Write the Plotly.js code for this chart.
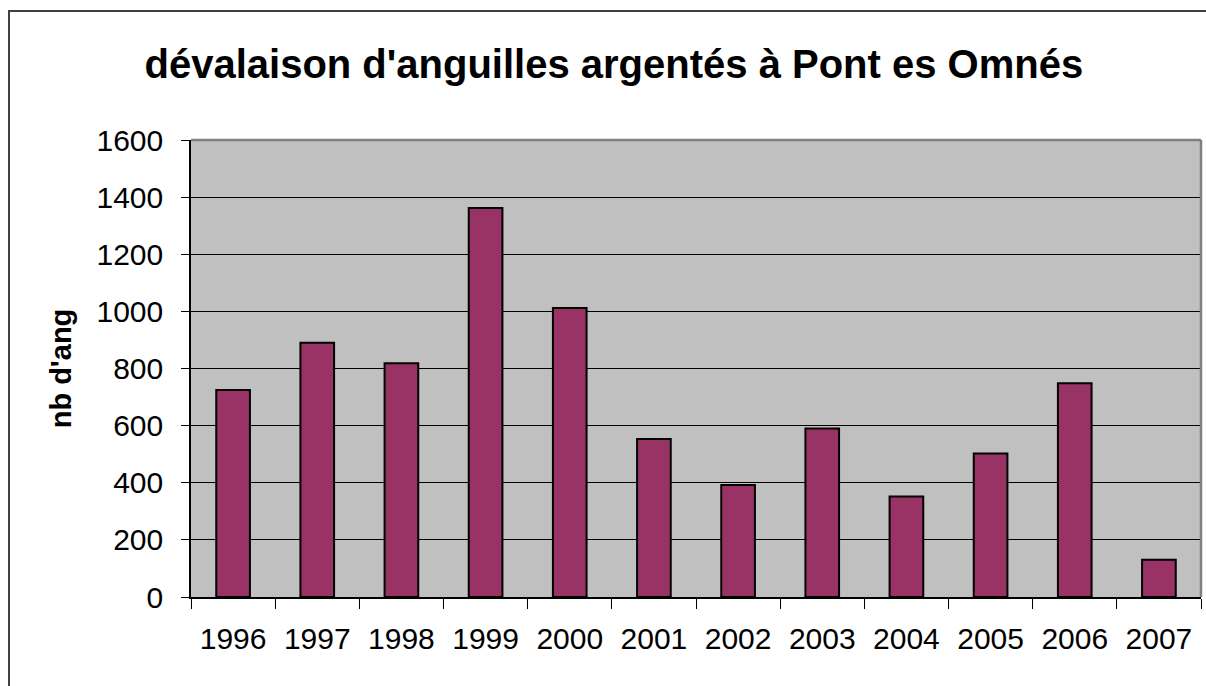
<!DOCTYPE html>
<html>
<head>
<meta charset="utf-8">
<script src="https://cdn.plot.ly/plotly-3.0.1.min.js"></script>
<style>
  html, body { margin: 0; padding: 0; background: #ffffff; }
  #wrap { position: relative; width: 1206px; height: 686px; overflow: hidden; }
  #frame { position: absolute; left: 8px; top: 10px; width: 1220px; height: 700px;
           border-left: 2px solid #404040; border-top: 2px solid #404040; pointer-events: none; }
  #chart { position: absolute; left: 0; top: 0; width: 1206px; height: 686px; }
</style>
</head>
<body>
<div id="wrap">
  <div id="chart"></div>
  <div id="frame"></div>
</div>
<script>
const years = ["1996","1997","1998","1999","2000","2001","2002","2003","2004","2005","2006","2007"];
const counts = [725, 890, 818, 1362, 1012, 553, 392, 590, 352, 502, 748, 130];
const yTicks = [0, 200, 400, 600, 800, 1000, 1200, 1400, 1600];
const chartTitle = "dévalaison d'anguilles argentés à Pont es Omnés";
const yTitle = "nb d'ang";

const font = "'Liberation Sans', Arial, sans-serif";

const trace = {
  type: "bar",
  x: years,
  y: counts,
  width: 0.4,
  marker: { color: "#993366", line: { color: "#000000", width: 2 } },
  hoverinfo: "x+y"
};

const layout = {
  width: 1206,
  height: 686,
  margin: { l: 191, r: 5, t: 140, b: 89, pad: 0 },
  paper_bgcolor: "rgba(0,0,0,0)",
  plot_bgcolor: "#C0C0C0",
  showlegend: false,
  bargap: 0.6,
  title: {
    text: "<b>" + chartTitle + "</b>",
    font: { family: font, size: 40, color: "#000000" },
    xref: "container", x: 0.509, xanchor: "center",
    yref: "container", y: 0.907, yanchor: "middle"
  },
  xaxis: {
    type: "category",
    tickson: "boundaries",
    ticks: "outside",
    ticklen: 10,
    tickwidth: 1,
    tickcolor: "#000000",
    showline: true,
    linecolor: "#000000",
    linewidth: 1.5,
    showgrid: false,
    zeroline: false,
    ticklabelstandoff: 14,
    tickfont: { family: font, size: 30, color: "#000000" },
    fixedrange: true
  },
  yaxis: {
    range: [0, 1600],
    tickvals: yTicks,
    ticktext: yTicks.map(String),
    ticks: "outside",
    ticklen: 8,
    tickwidth: 1,
    tickcolor: "#000000",
    showline: true,
    linecolor: "#000000",
    linewidth: 1.5,
    showgrid: true,
    gridcolor: "#000000",
    gridwidth: 1,
    zeroline: false,
    ticklabelstandoff: 12,
    tickfont: { family: font, size: 30, color: "#000000" },
    title: {
      text: "<b>" + yTitle + "</b>",
      font: { family: font, size: 29, color: "#000000" },
      standoff: 16
    },
    automargin: false,
    fixedrange: true
  },
  shapes: [
    { type: "line", xref: "paper", yref: "paper", x0: 0, x1: 1, y0: 1, y1: 1,
      line: { color: "#808080", width: 2.5 }, layer: "above" },
    { type: "line", xref: "paper", yref: "paper", x0: 1, x1: 1, y0: 0, y1: 1,
      line: { color: "#808080", width: 2.5 }, layer: "above" }
  ]
};

Plotly.newPlot("chart", [trace], layout, { displayModeBar: false, staticPlot: false });
</script>
</body>
</html>
